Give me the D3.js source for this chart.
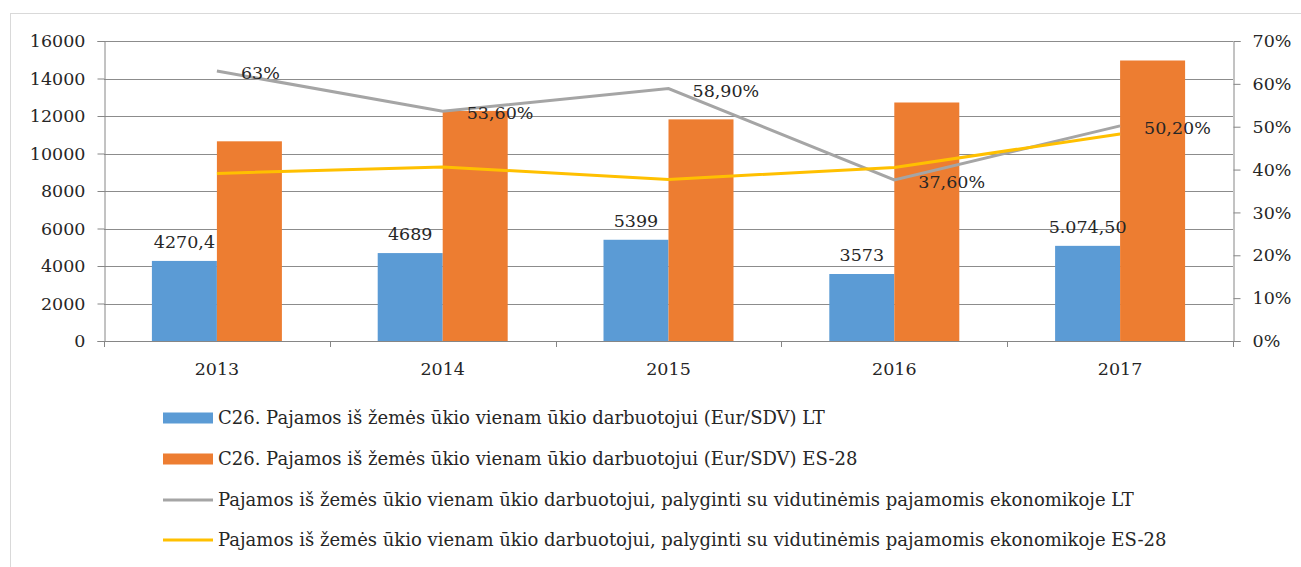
<!DOCTYPE html>
<html><head><meta charset="utf-8">
<script src="https://cdn.jsdelivr.net/npm/d3@7"></script>
<style>body{margin:0;background:#fff}svg{display:block}text{font-family:"DejaVu Serif",serif;fill:#262626}</style>
</head><body><svg id="c" width="1301" height="567"></svg>
<script>
const years = ["2013","2014","2015","2016","2017"];
const ltIncome = [4270.4, 4689, 5399, 3573, 5074.5];
const esIncome = [10650, 12270, 11820, 12720, 14960];
const ltRatio = [0.63, 0.536, 0.589, 0.376, 0.502];
const esRatio = [0.391, 0.406, 0.377, 0.405, 0.483];
const ltIncomeLabels = ["4270,4", "4689", "5399", "3573", "5.074,50"];
const ltRatioLabels = ["63%", "53,60%", "58,90%", "37,60%", "50,20%"];
const leftTicks = [0,2000,4000,6000,8000,10000,12000,14000,16000];
const rightTicks = [0,0.1,0.2,0.3,0.4,0.5,0.6,0.7];
const legendLabels = [
  "C26. Pajamos iš žemės ūkio vienam ūkio darbuotojui (Eur/SDV) LT",
  "C26. Pajamos iš žemės ūkio vienam ūkio darbuotojui (Eur/SDV) ES-28",
  "Pajamos iš žemės ūkio vienam ūkio darbuotojui, palyginti su vidutinėmis pajamomis ekonomikoje LT",
  "Pajamos iš žemės ūkio vienam ūkio darbuotojui, palyginti su vidutinėmis pajamomis ekonomikoje ES-28"
];
const colors = {lt:"#5b9bd5", es:"#ed7d31", ltLine:"#a5a5a5", esLine:"#ffc000"};

const svg = d3.select("#c");
svg.append("rect").attr("x",10.5).attr("y",13.5).attr("width",1300).attr("height",560)
  .attr("fill","none").attr("stroke","#d9d9d9");

const L=104, R=1233, T=41, B=341;
const x = d3.scaleBand().domain(years).range([L,R]).padding(0);
const xs = d3.scaleBand().domain(["lt","es"]).range([0,x.bandwidth()]).paddingInner(0).paddingOuter(0.737);
const y = d3.scaleLinear().domain([0,16000]).range([B,T]);
const y2 = d3.scaleLinear().domain([0,0.7]).range([B,T]);

// gridlines
svg.append("g").selectAll("line").data(leftTicks.slice(1)).join("line")
  .attr("x1",L).attr("x2",R).attr("y1",d=>Math.round(y(d))+0.5).attr("y2",d=>Math.round(y(d))+0.5)
  .attr("stroke","#8c8c8c").attr("stroke-width",1);

// bars
const g = svg.append("g");
years.forEach((yr,i)=>{
  g.append("rect").attr("x",x(yr)+xs("lt")).attr("width",xs.bandwidth())
    .attr("y",y(ltIncome[i])).attr("height",B-y(ltIncome[i])).attr("fill",colors.lt);
  g.append("rect").attr("x",x(yr)+xs("es")).attr("width",xs.bandwidth())
    .attr("y",y(esIncome[i])).attr("height",B-y(esIncome[i])).attr("fill",colors.es);
});

// axes
const axL = svg.append("g").attr("transform",`translate(${L+0.5},0)`)
  .call(d3.axisLeft(y).tickValues(leftTicks).tickSize(7).tickPadding(12).tickFormat(d=>String(d)));
const axR = svg.append("g").attr("transform",`translate(${R+0.5},0)`)
  .call(d3.axisRight(y2).tickValues(rightTicks).tickSize(7).tickPadding(12).tickFormat(d=>Math.round(d*100)+"%"));
const axB = svg.append("g").attr("transform",`translate(0,${B+0.5})`)
  .call(d3.axisBottom(x).tickSize(0).tickPadding(21));
// boundary ticks on category axis
svg.append("g").selectAll("line").data(years.map(v=>x(v)).concat([R])).join("line")
  .attr("x1",d=>Math.round(d)+0.5).attr("x2",d=>Math.round(d)+0.5).attr("y1",B).attr("y2",B+6)
  .attr("stroke","#868686");
[axL,axR,axB].forEach(a=>{
  a.select(".domain").attr("stroke","#868686");
  a.selectAll(".tick line").attr("stroke","#868686");
  a.selectAll("text").style("font-family","DejaVu Serif").style("font-size","17.5px").attr("fill","#262626");
});
axB.select(".domain").attr("d",`M${L},0H${R}`);

// lines
const line = d3.line().x((d,i)=>x(years[i])+x.bandwidth()/2);
svg.append("path").datum(ltRatio).attr("d",line.y(d=>y2(d))).attr("fill","none")
  .attr("stroke",colors.ltLine).attr("stroke-width",3);
svg.append("path").datum(esRatio).attr("d",line.y(d=>y2(d))).attr("fill","none")
  .attr("stroke",colors.esLine).attr("stroke-width",3);

// bar labels
svg.append("g").selectAll("text").data(ltIncome).join("text")
  .attr("x",(d,i)=>x(years[i])+xs("lt")+xs.bandwidth()/2).attr("y",d=>y(d)-13)
  .attr("text-anchor","middle").style("font-size","17.5px").text((d,i)=>ltIncomeLabels[i]);
// line labels
svg.append("g").selectAll("text").data(ltRatio).join("text")
  .attr("x",(d,i)=>x(years[i])+x.bandwidth()/2+24).attr("y",d=>y2(d)+8)
  .style("font-size","17.5px").text((d,i)=>ltRatioLabels[i]);

// legend
const lg = svg.append("g");
const ly = [418, 459, 500, 540];
legendLabels.forEach((t,i)=>{
  if(i<2){
    lg.append("rect").attr("x",163).attr("y",ly[i]-5.5).attr("width",50).attr("height",11)
      .attr("fill",i===0?colors.lt:colors.es);
  } else {
    lg.append("line").attr("x1",163).attr("x2",213).attr("y1",ly[i]).attr("y2",ly[i])
      .attr("stroke",i===2?colors.ltLine:colors.esLine).attr("stroke-width",3);
  }
  lg.append("text").attr("x",218).attr("y",ly[i]+6).style("font-size","18px").text(t);
});
</script></body></html>
